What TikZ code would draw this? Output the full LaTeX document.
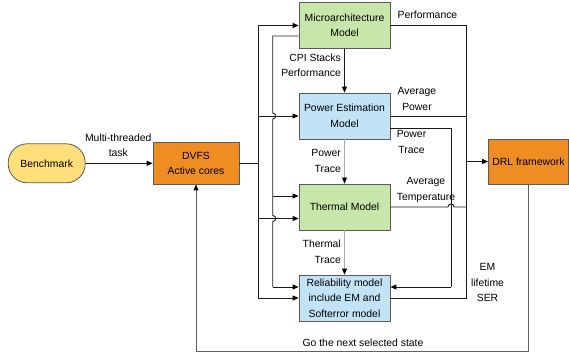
\documentclass[tikz,border=0pt]{standalone}
\usepackage{fontspec}
\setmainfont{Liberation Sans}
\usetikzlibrary{arrows.meta,calc}
\definecolor{boxgreen}{HTML}{C7E6A9}
\definecolor{boxblue}{HTML}{C2E3F5}
\definecolor{boxorange}{HTML}{EF8C22}
\definecolor{boxyellow}{HTML}{FEDF79}
\definecolor{edge}{HTML}{5A5A5A}
\definecolor{wire}{HTML}{1A1A1A}
\definecolor{tracewire}{HTML}{A8A8A8}
\definecolor{loopwire}{HTML}{606060}
\begin{document}
\begin{tikzpicture}[x=1pt,y=-1pt,
  txt/.style={font=\fontsize{10.4}{15.5}\selectfont, align=center, inner sep=0pt},
  block/.style={txt, draw=edge, line width=0.8pt, minimum width=91pt, minimum height=46pt},
  wireline/.style={draw=wire, line width=0.9pt},
  arr/.style={wireline, -{Triangle[length=6pt,width=5pt,color=black]}},
  tracearr/.style={arr, draw=tracewire, line width=0.7pt},
  looparr/.style={arr, draw=loopwire, line width=1pt}]
\useasboundingbox (0,0) rectangle (569,356);

% blocks
\node[block, fill=boxgreen] (micro) at (344.5,25.5) {Microarchitecture\\Model};
\node[block, fill=boxblue] (power) at (344.5,116) {Power Estimation\\Model};
\node[block, fill=boxgreen] (thermal) at (344.5,207) {Thermal Model};
\node[block, fill=boxblue] (rel) at (344.5,298) {Reliability model\\include EM and\\Softerror model};
\node[block, fill=boxorange, minimum width=86pt, minimum height=41.5pt] (dvfs) at (196,163.3) {DVFS\\Active cores};
\node[block, fill=boxyellow, minimum width=77pt, minimum height=39pt, rounded corners=19pt] (bench) at (46.7,163.3) {Benchmark};
\node[block, fill=boxorange, minimum width=80pt, minimum height=45pt] (drl) at (528.5,161.5) {DRL framework};

% bus positions
\coordinate (busL) at (258.3,0);
\coordinate (busI) at (272.7,0);
\coordinate (busT) at (451,0);
\coordinate (busR) at (466.7,0);
\coordinate (botY) at (0,351.5);

% ports
\coordinate (microOut) at ([yshift=-10.5pt]micro.west);
\coordinate (thIn1) at ([yshift=11pt]thermal.west);
\coordinate (thIn2) at ([yshift=-11.5pt]thermal.west);
\coordinate (relIn1) at ([yshift=11pt]rel.west);
\coordinate (relR1) at ([yshift=11pt]rel.east);
\coordinate (pwOut2) at ([yshift=-12pt]power.east);

% input
\draw[arr] (bench.east) -- (dvfs.west);

% DVFS fan-out bus
\draw[wireline] (dvfs.east) -- (dvfs.east -| busL);
\draw[wireline] (busL |- micro.west) -- (busL |- rel.west);
\draw[arr] (busL |- micro.west) -- (micro.west);
\draw[arr] (busL |- power.west) -- (power.west);
\draw[arr] (busL |- thIn2) -- (thIn2);
\draw[arr] (busL |- rel.west) -- (rel.west);

% microarchitecture output bus (hops over the DVFS feeds)
\draw[wireline] (microOut) -- (microOut -| busI)
  -- ($(busI |- power.west)+(0,-3)$) arc[start angle=90,end angle=-90,radius=3pt]
  -- ($(busI |- thIn2)+(0,-3)$) arc[start angle=90,end angle=-90,radius=3pt]
  -- (busI |- relIn1);
\draw[arr] (busI |- thIn1) -- (thIn1);
\draw[arr] (busI |- relIn1) -- (relIn1);

% model chain
\draw[arr] (micro.south) -- (power.north);
\draw[tracearr] (power.south) -- (thermal.north);
\draw[tracearr] (thermal.south) -- (rel.north);

% power trace to reliability
\draw[wireline] (pwOut2) -| (busT |- relR1);
\draw[arr] (busT |- relR1) -- (relR1);

% results collected for the DRL framework
\draw[wireline] (micro.east) -- (micro.east -| busR) -- (busR |- rel.east) -- (rel.east);
\draw[wireline] (power.east) -- (power.east -| busR);
\draw[wireline] (thermal.east) -- ($(thermal.east -| busT)+(-3,0)$)
  arc[start angle=180,end angle=0,radius=3pt] -- (thermal.east -| busR);
\draw[arr] (busR |- drl.west) -- (drl.west);

% feedback loop
\draw[looparr] (drl.south) -- (drl.south |- botY) -| (dvfs.south);

% labels
\node[txt] (lbMT) at (118.3,145.5) {Multi-threaded\\task};
\node[txt] (lbPerf) at (427.5,15) {Performance};
\node[txt, anchor=east, align=right] (lbCPI) at (341,65.5) {CPI Stacks\\Performance};
\node[txt] (lbAvgP) at (417,99) {Average\\Power};
\node[txt] (lbPT) at (411.5,142) {Power\\Trace};
\node[txt, anchor=east, align=right] (lbPT2) at (341,161) {Power\\Trace};
\node[txt] (lbAvgT) at (426,190) {Average\\Temperature};
\node[txt, anchor=east, align=right] (lbTT) at (341,252) {Thermal\\Trace};
\node[txt] (lbEM) at (487.5,282.5) {EM\\lifetime\\SER};
\node[txt] (lbGo) at (363,342.5) {Go the next selected state};
\end{tikzpicture}
\end{document}
